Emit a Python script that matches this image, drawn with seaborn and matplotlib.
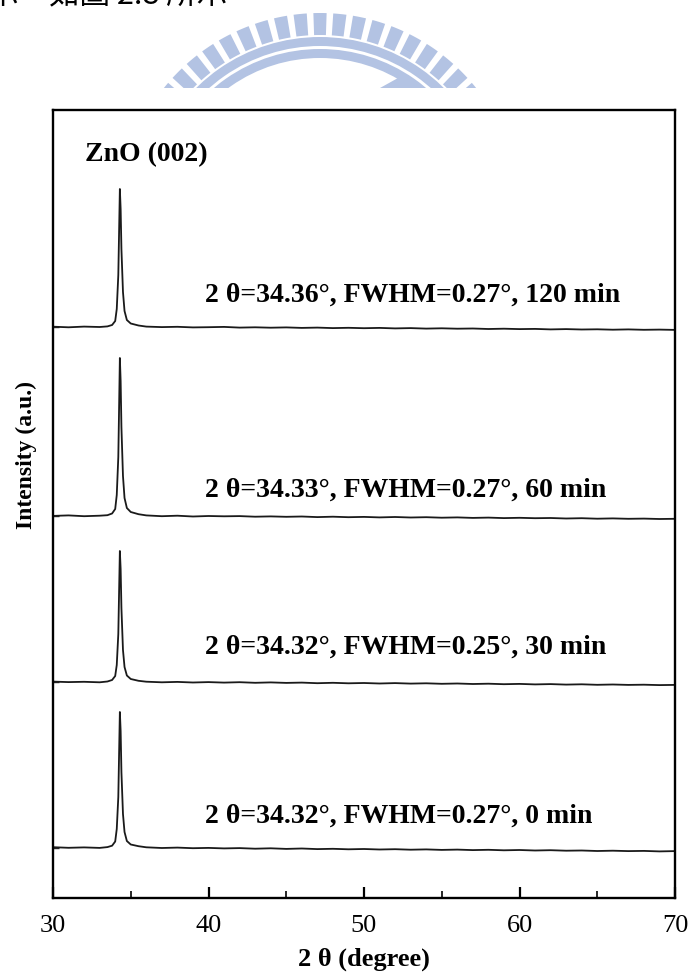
import numpy as np
import pandas as pd
import matplotlib
matplotlib.use("Agg")
import matplotlib.pyplot as plt
import seaborn as sns
from matplotlib.patches import Wedge, Rectangle, Polygon

# ---------------- data ----------------
two_theta = [30, 31, 32, 33, 33.5, 33.8, 34.0, 34.1, 34.2, 34.25, 34.3, 34.35,
             34.4, 34.5, 34.6, 34.75, 35.0, 35.5, 36,
             37, 38, 39, 40, 41, 42, 43, 44, 45, 46, 47, 48, 49, 50, 51, 52,
             53, 54, 55, 56, 57, 58, 59, 60, 61, 62, 63, 64, 65, 66, 67, 68,
             69, 70]

int_0min = [10.8, 10.2, 10.6, 10.1, 10.9, 12.3, 16.5, 29.0, 61.0, 104.0, 146.0, 127.0,
            86.0, 44.0, 26.0, 17.0, 13.5, 11.8, 10.7,
            10.0, 10.4, 9.8, 10.1, 9.6, 9.9, 9.3, 9.7, 9.1, 9.5, 8.9, 9.2, 8.7, 9.0, 8.5, 8.8,
            8.3, 8.6, 8.1, 8.4, 7.9, 8.2, 7.7, 8.0, 7.5, 7.8, 7.3, 7.5, 7.0, 7.3, 6.9, 7.1,
            6.6, 6.9]
int_30min = [10.4, 9.9, 10.2, 9.7, 10.5, 12.0, 16.0, 27.0, 58.0, 100.0, 141.0, 123.0,
             84.0, 42.0, 25.0, 16.5, 13.0, 11.2, 10.3,
             9.7, 10.1, 9.5, 9.9, 9.4, 9.8, 9.2, 9.6, 9.1, 9.4, 8.8, 9.2, 8.7, 9.0, 8.5, 8.9,
             8.4, 8.7, 8.2, 8.5, 8.0, 8.3, 7.8, 8.1, 7.6, 7.9, 7.4, 7.7, 7.2, 7.5, 7.1, 7.3,
             6.9, 7.1]
int_60min = [10.1, 10.6, 9.8, 10.3, 10.8, 12.5, 17.0, 31.0, 69.0, 118.0, 168.0, 145.0,
             99.0, 50.0, 28.0, 18.0, 14.0, 11.8, 10.6,
             9.8, 10.3, 9.5, 10.0, 9.7, 9.9, 9.3, 9.6, 9.2, 9.5, 8.9, 9.3, 8.8, 9.1, 8.6, 9.0,
             8.5, 8.8, 8.3, 8.6, 8.1, 8.4, 7.9, 8.2, 7.8, 8.0, 7.5, 7.8, 7.3, 7.6, 7.2, 7.4,
             7.0, 7.2]
int_120min = [10.3, 9.7, 10.4, 10.0, 10.6, 12.0, 16.0, 28.0, 62.0, 105.0, 148.0, 128.0,
              88.0, 45.0, 26.0, 17.0, 13.5, 11.5, 10.4,
              9.9, 10.2, 9.6, 9.8, 10.1, 9.4, 9.7, 9.3, 9.6, 9.1, 9.4, 8.9, 9.2, 8.8, 9.1, 8.6,
              8.9, 8.4, 8.7, 8.3, 8.5, 8.0, 8.3, 7.9, 8.1, 7.6, 7.9, 7.5, 7.7, 7.3, 7.6, 7.2,
              7.4, 7.1]

anneal_times = ["0 min", "30 min", "60 min", "120 min"]
peak_texts = ["2 θ=34.32°, FWHM=0.27°, 0 min",
              "2 θ=34.32°, FWHM=0.25°, 30 min",
              "2 θ=34.33°, FWHM=0.27°, 60 min",
              "2 θ=34.36°, FWHM=0.27°, 120 min"]
peak_label = "ZnO (002)"
x_ticks = [30, 40, 50, 60, 70]
x_minor_ticks = [35, 45, 55, 65]

# vertical stacking of the traces (a.u.)
stack_offset = [40, 206, 372, 561]
text_baseline = [75, 244, 401, 596]

intensities = [int_0min, int_30min, int_60min, int_120min]
for arr in intensities:
    assert len(arr) == len(two_theta)

frames = []
for t, arr, off in zip(anneal_times, intensities, stack_offset):
    frames.append(pd.DataFrame({"two_theta": two_theta,
                                "signal": np.array(arr) + off,
                                "time": t}))
df = pd.concat(frames, ignore_index=True)

# ---------------- styling ----------------
sns.set_theme(style="white")
plt.rcParams["font.family"] = ["Liberation Serif", "DejaVu Serif"]

W, H = 689, 976
fig = plt.figure(figsize=(W / 100, H / 100), dpi=100)
fig.patch.set_facecolor("white")

ax_l, ax_r, ax_t, ax_b = 53, 675, 110, 898
ax = fig.add_axes([ax_l / W, 1 - ax_b / H, (ax_r - ax_l) / W, (ax_b - ax_t) / H])

sns.lineplot(data=df, x="two_theta", y="signal", hue="time",
             palette=["#1a1a1a"] * 4, estimator=None, sort=False,
             linewidth=1.3, legend=False, ax=ax)

ax.set_xlim(30, 70)
ax.set_ylim(0, ax_b - ax_t)
ax.set_xticks(x_ticks)
ax.set_xticklabels([str(v) for v in x_ticks])
ax.set_xticks(x_minor_ticks, minor=True)
ax.tick_params(axis="x", which="major", direction="in", length=8, width=1.6,
               labelsize=19, pad=12, colors="black", top=False, bottom=True)
ax.tick_params(axis="x", which="minor", direction="in", length=5, width=1.4,
               top=False, bottom=True)
ax.set_yticks([o + 10 for o in stack_offset])
ax.set_yticklabels([])
ax.tick_params(axis="y", direction="in", length=4, width=1.0, left=True, right=False)
for s in ax.spines.values():
    s.set_visible(True)
    s.set_color("black")
    s.set_linewidth(1.7)
ax.set_xlabel("2 θ (degree)", fontsize=19, fontweight="bold", labelpad=8,
              color="black")
ax.set_ylabel("")

for txt, yb in zip(peak_texts, text_baseline):
    ax.text(39.8, yb, txt, fontsize=20, fontweight="bold", ha="left",
            va="baseline", color="black")
ax.text(32.05, ax_b - 161, peak_label, fontsize=20, fontweight="bold",
        ha="left", va="baseline", color="black")

fig.text(26 / W, 1 - 455 / H, "Intensity (a.u.)", rotation=90, fontsize=17,
         fontweight="bold", ha="center", va="center", color="black")

# ---------------- watermark and clipped page text above the chart ----------------
ov = fig.add_axes([0, 0, 1, 1], zorder=-1)
ov.set_xlim(0, W)
ov.set_ylim(H, 0)
ov.axis("off")
clip = Rectangle((0, 0), W, 88, transform=ov.transData)
logo_c = (320, 213)
logo_col = "#b3c3e3"
patches = []
for k in range(-9, 10):
    a = 270 + k * 5.7
    patches.append(Wedge(logo_c, 200, a - 1.9, a + 1.9, width=22))
patches.append(Wedge(logo_c, 176, 200, 340, width=9))
patches.append(Wedge(logo_c, 164, 200, 340, width=9))
patches.append(Polygon([(380, 88), (398, 78), (414, 88)]))
for p in patches:
    p.set_facecolor(logo_col)
    p.set_edgecolor("none")
    ov.add_patch(p)
    p.set_clip_path(clip)

fig.text(-12 / W, 1 - 4 / H, "示，如圖 2.8 所示", fontsize=22,
         family=["Noto Sans CJK TC", "DejaVu Sans"], ha="left", va="baseline",
         color="black")

fig.savefig("out.png", dpi=100, facecolor="white")
